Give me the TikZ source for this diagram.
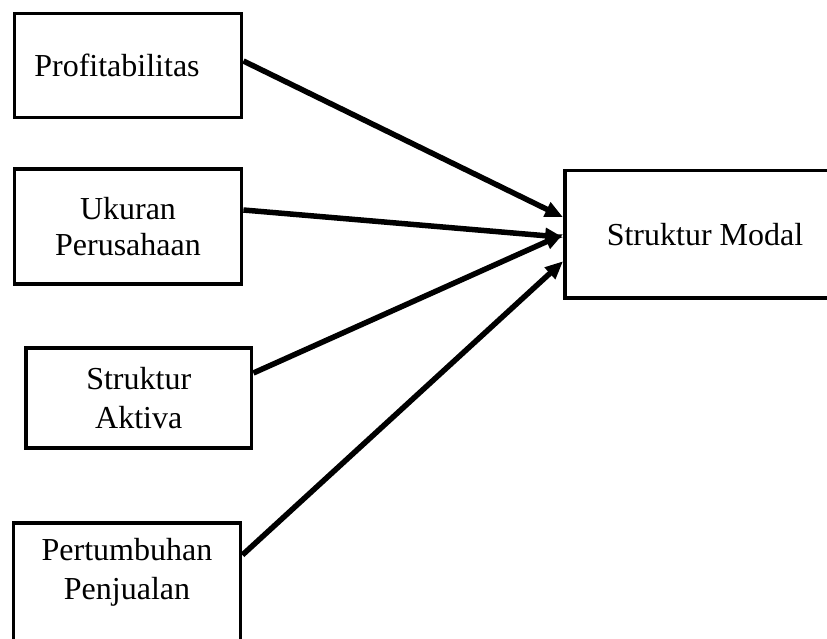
\documentclass[tikz,border=0pt]{standalone}
\usepackage{fontspec}
\setmainfont{Liberation Serif}
\usetikzlibrary{arrows.meta}
\begin{document}
\begin{tikzpicture}[x=1pt,y=-1pt,
  box/.style={draw=black, line width=3.8pt, rectangle, inner sep=0pt, align=center,
    font=\fontsize{32}{39}\selectfont},
  conn/.style={line width=5.5pt, -{Triangle[length=18pt,width=15pt]}}]
\useasboundingbox (0,0) rectangle (827,639);
\clip (0,0) rectangle (827,639);
\node[box, minimum width=227pt, minimum height=104pt] (b1) at (128,65.5) {\raisebox{-3pt}{Profitabilitas}\hspace*{22pt}};
\node[box, minimum width=227pt, minimum height=115pt] (b2) at (128,226.5) {\raisebox{-3pt}{Ukuran}\\Perusahaan};
\node[box, minimum width=225.5pt, minimum height=100pt] (b3) at (138.75,398) {Struktur\\Aktiva};
\node[box, minimum width=227pt, minimum height=200pt, anchor=north,
  label={[anchor=north, yshift=-14pt, align=center, font=\fontsize{32}{39}\selectfont]north:Pertumbuhan\\Penjualan}] (b4) at (127,521) {};
\node[box, minimum width=280pt, minimum height=127.5pt] (b5) at (705,234.25) {Struktur Modal};
\draw[conn] ([yshift=4.5pt]b1.east) -- ([yshift=17pt]b5.west);
\draw[conn] ([yshift=16.5pt]b2.east) -- ([yshift=-3pt]b5.west);
\draw[conn] ([yshift=25pt]b3.east) -- ([yshift=0pt]b5.west);
\draw[conn] ([yshift=-34pt]b4.north east) -- ([yshift=-27pt]b5.west);
\end{tikzpicture}
\end{document}
